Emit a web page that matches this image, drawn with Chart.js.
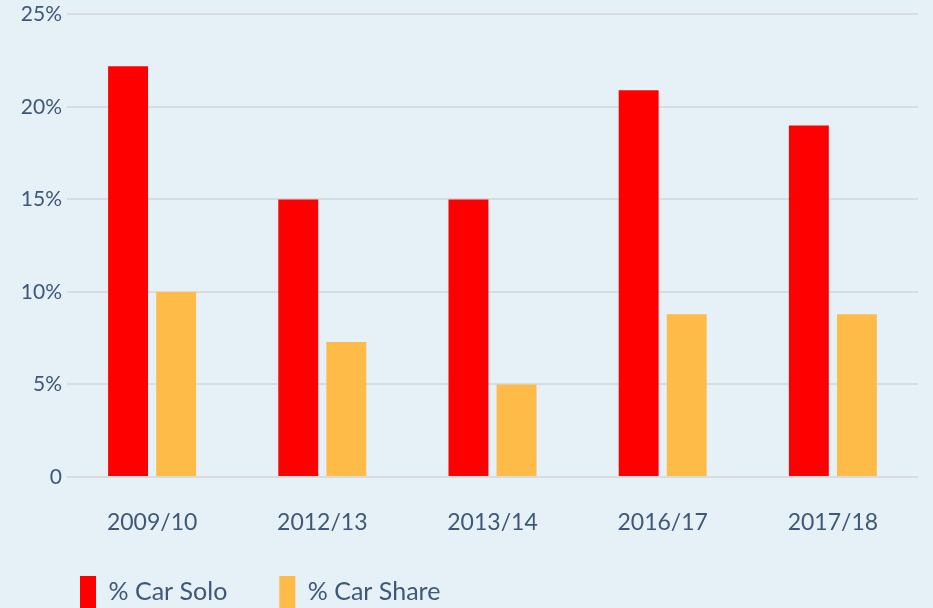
<!DOCTYPE html>
<html>
<head>
<meta charset="utf-8">
<script src="https://cdn.jsdelivr.net/npm/chart.js@4"></script>
<style>
  html, body { margin: 0; padding: 0; overflow: hidden; background: #E6F0F7; }
  #wrap { width: 933px; height: 631px; }
</style>
</head>
<body>
<div id="wrap"><canvas id="modeChart" width="933" height="631"></canvas></div>
<script>
// dados
const years = ['2009/10', '2012/13', '2013/14', '2016/17', '2017/18'];
const carSolo = [22.2, 15.0, 15.0, 20.9, 19.0];
const carShare = [10.0, 7.3, 5.0, 8.8, 8.8];
const yTicks = [0, 5, 10, 15, 20, 25];

const textColor = '#3F5877';
Chart.defaults.font.family = 'Lato, "Open Sans", sans-serif';
Chart.defaults.color = textColor;

// empurra a legenda um pouco (padding da legenda vale p/ horizontal e vertical)
const legendNudge = {
    id: 'legendNudge',
    afterLayout(chart, args, opts) {
        const lg = chart.legend;
        lg.left += opts.dx; lg.right += opts.dx;
        lg.top += opts.dy; lg.bottom += opts.dy;
    }
};

const ctx = document.getElementById('modeChart').getContext('2d');
const modeChart = new Chart(ctx, {
    type: 'bar',
    data: {
        labels: years,
        datasets: [{
            label: '% Car Solo',
            data: carSolo,
            backgroundColor: '#FF0000',
            borderWidth: 0
        }, {
            label: '% Car Share',
            data: carShare,
            backgroundColor: '#FFBB47',
            borderWidth: 0
        }]
    },
    plugins: [legendNudge],
    options: {
        responsive: false,
        animation: false,
        categoryPercentage: 0.565,
        barPercentage: 0.83,
        layout: { padding: { top: 6, right: 15, left: 0, bottom: 0 } },
        plugins: {
            tooltip: { enabled: false },
            legendNudge: { dx: 28, dy: -13 },
            legend: {
                position: 'bottom',
                align: 'start',
                labels: {
                    boxWidth: 16,
                    boxHeight: 32,
                    padding: 52,
                    font: { size: 25 },
                    color: textColor
                }
            }
        },
        scales: {
            x: {
                grid: { display: false },
                border: { display: false },
                ticks: { font: { size: 23 }, padding: 24 },
                afterFit: s => { s.height = 60; }
            },
            y: {
                min: 0,
                max: 25,
                afterBuildTicks: s => { s.ticks = yTicks.map(v => ({ value: v })); },
                grid: { color: '#D8DCDF', lineWidth: 2, drawTicks: false },
                border: { display: false },
                ticks: {
                    font: { size: 21, lineHeight: 0.9 },
                    padding: 5,
                    callback: v => v === 0 ? '0' : v + '%'
                },
                afterFit: s => { s.width = 67; }
            }
        }
    }
});
</script>
</body>
</html>
